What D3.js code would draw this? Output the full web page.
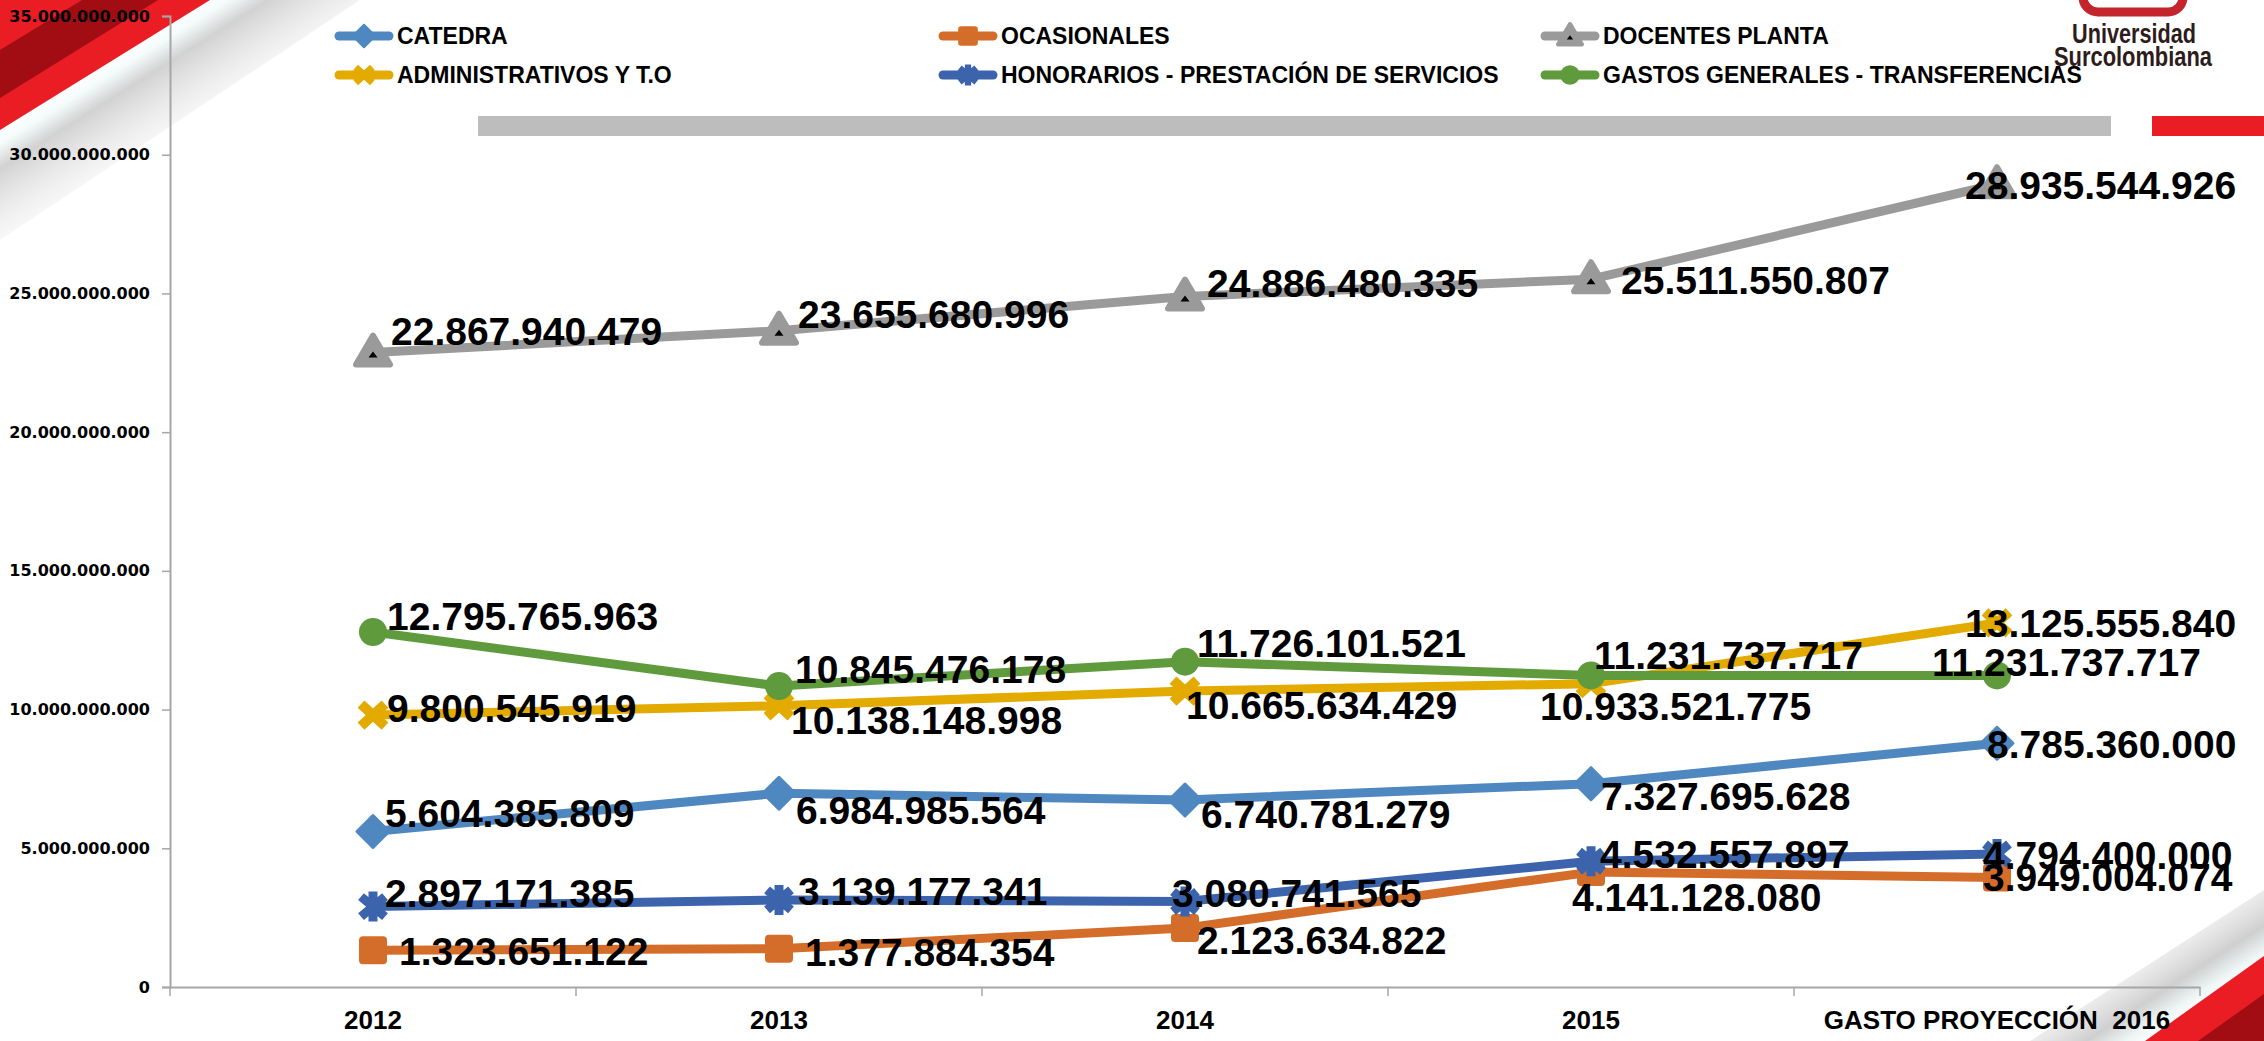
<!DOCTYPE html>
<html><head><meta charset="utf-8">
<script src="https://cdn.jsdelivr.net/npm/d3@7"></script>
<style>html,body{margin:0;padding:0;background:#fff;overflow:hidden}</style>
</head><body>
<svg id="c" width="2264" height="1041"></svg>
<script>
// ---------------- DATA ----------------
const categories = ["2012", "2013", "2014", "2015", "GASTO PROYECCIÓN  2016"];
const seriesNames = ["CATEDRA", "OCASIONALES", "DOCENTES PLANTA", "ADMINISTRATIVOS Y T.O",
  "HONORARIOS - PRESTACIÓN DE SERVICIOS", "GASTOS GENERALES - TRANSFERENCIAS"];
const catedra = [5604385809, 6984985564, 6740781279, 7327695628, 8785360000];
const ocasionales = [1323651122, 1377884354, 2123634822, 4141128080, 3949004074];
const docentesPlanta = [22867940479, 23655680996, 24886480335, 25511550807, 28935544926];
const administrativos = [9800545919, 10138148998, 10665634429, 10933521775, 13125555840];
const honorarios = [2897171385, 3139177341, 3080741565, 4532557897, 4794400000];
const gastosGenerales = [12795765963, 10845476178, 11726101521, 11231737717, 11231737717];
const yTickValues = [0, 5e9, 10e9, 15e9, 20e9, 25e9, 30e9, 35e9];

// ---------------- STYLE / LAYOUT ----------------
const seriesValues = [catedra, ocasionales, docentesPlanta, administrativos, honorarios, gastosGenerales];
const colors = ["#4f88c0", "#d56d2a", "#9a9a9a", "#e3aa00", "#3c64ad", "#5f9b3c"];
const markers = ["diamond", "square", "triangle", "x", "star", "circle"];
// label offsets (px) relative to the point: [dx to left edge, dy to centre]
const labelOffsets = [
  [[12,-19],[17,17],[16,14],[10,12],[-10,1]],
  [[26,1],[26,3],[12,12],[-19,25],[-14,0]],
  [[18,-22],[19,-17],[22,-14],[30,1],[-32,1]],
  [[14,-7],[12,14],[1,14],[-51,22],[-32,0]],
  [[12,-14],[19,-9],[-13,-9],[9,-7],[-14,1]],
  [[14,-16],[16,-17],[12,-19],[3,-20],[-65,-13]]
];

const svg = d3.select("#c");
const defs = svg.append("defs");
const fmt = d3.formatLocale({decimal: ",", thousands: ".", grouping: [3], currency: ["$", ""]}).format(",d");

// ---------------- DECORATION ----------------
function lg(id, x1, y1, x2, y2, stops) {
  const g = defs.append("linearGradient").attr("id", id).attr("gradientUnits", "userSpaceOnUse")
    .attr("x1", x1).attr("y1", y1).attr("x2", x2).attr("y2", y2);
  stops.forEach(s => g.append("stop").attr("offset", s[0]).attr("stop-color", s[1]).attr("stop-opacity", s[2] == null ? 1 : s[2]));
}
lg("shTL", 102, 64, 175, 180, [[0, "#ffffff"], [0.1, "#f4fbfb"], [0.25, "#d2d2d2"], [1, "#ffffff", 0]]);
lg("shBR", 2215, 1000, 2150, 900, [[0, "#ffffff"], [0.12, "#eef6f6"], [0.3, "#cfcfcf"], [1, "#ffffff", 0]]);
const deco = svg.append("g");
deco.append("polygon").attr("points", "0,120 200,0 360,0 0,240").attr("fill", "url(#shTL)");
deco.append("polygon").attr("points", "0,0 210,0 0,130").attr("fill", "#ea1c24");
deco.append("polygon").attr("points", "0,50 0,98 158,0 82,0").attr("fill", "#a10d12");
deco.append("polygon").attr("points", "2030,1041 2264,890 2264,1041").attr("fill", "url(#shBR)");
deco.append("polygon").attr("points", "2145,1041 2264,956 2264,1041").attr("fill", "#ea1c24");
deco.append("polygon").attr("points", "2198,1041 2264,994 2264,1041").attr("fill", "#a10d12");

// header bars
deco.append("rect").attr("x", 478).attr("y", 116).attr("width", 1633).attr("height", 20).attr("fill", "#bdbdbd");
deco.append("rect").attr("x", 2152).attr("y", 116).attr("width", 112).attr("height", 20).attr("fill", "#ea1c24");

// logo
deco.append("rect").attr("x", 2083).attr("y", -34).attr("width", 100).attr("height", 46).attr("rx", 15)
  .attr("fill", "none").attr("stroke", "#c4242c").attr("stroke-width", 9);
deco.append("text").attr("x", 2072).attr("y", 43).text("Universidad")
  .attr("font-family", "Liberation Sans, Arial, sans-serif").attr("font-weight", "bold").attr("font-size", 28)
  .attr("textLength", 124).attr("lengthAdjust", "spacingAndGlyphs").attr("fill", "#2e1c1c");
deco.append("text").attr("x", 2054).attr("y", 66).text("Surcolombiana")
  .attr("font-family", "Liberation Sans, Arial, sans-serif").attr("font-weight", "bold").attr("font-size", 28)
  .attr("textLength", 158).attr("lengthAdjust", "spacingAndGlyphs").attr("fill", "#2e1c1c");

// ---------------- SCALES / AXES ----------------
const x = d3.scaleBand().domain(categories).range([170, 2200]).padding(0);
const y = d3.scaleLinear().domain([0, 35e9]).range([987, 16]);
const cx = c => x(c) + x.bandwidth() / 2;

const yAxis = svg.append("g").attr("transform", "translate(170,0)")
  .call(d3.axisLeft(y).tickValues(yTickValues).tickFormat(fmt).tickSize(8).tickPadding(12));
yAxis.select(".domain").attr("stroke", "#a6a6a6").attr("stroke-width", 2);
yAxis.selectAll(".tick line").attr("stroke", "#a6a6a6").attr("stroke-width", 1.5);
yAxis.selectAll(".tick text").attr("font-family", "DejaVu Sans, Verdana, sans-serif").attr("font-weight", "bold")
  .attr("font-size", 16).attr("fill", "#000");

const xAxis = svg.append("g").attr("transform", "translate(0,987)")
  .call(d3.axisBottom(x).tickSize(0).tickPadding(24));
xAxis.select(".domain").attr("stroke", "#a6a6a6").attr("stroke-width", 2);
xAxis.selectAll(".tick text").attr("font-family", "Liberation Sans, Arial, sans-serif").attr("font-weight", "bold")
  .attr("font-size", 26).attr("fill", "#000").style("white-space", "pre");
// category boundary tick marks
svg.append("g").selectAll("line").data(categories.concat(["_end"])).join("line")
  .attr("x1", (d, i) => i < categories.length ? x(d) : x(categories[categories.length - 1]) + x.bandwidth())
  .attr("x2", (d, i) => i < categories.length ? x(d) : x(categories[categories.length - 1]) + x.bandwidth())
  .attr("y1", 987).attr("y2", 996).attr("stroke", "#a6a6a6").attr("stroke-width", 1.5);

// ---------------- MARKERS ----------------
function drawMarker(g, type, color, s) {
  if (type === "diamond") {
    g.append("path").attr("d", `M0,${-16*s}L${16*s},0L0,${16*s}L${-16*s},0Z`).attr("fill", color)
      .attr("stroke", color).attr("stroke-width", 3 * s).attr("stroke-linejoin", "round");
  } else if (type === "square") {
    g.append("rect").attr("x", -13*s).attr("y", -13*s).attr("width", 26*s).attr("height", 26*s).attr("rx", 3*s)
      .attr("fill", color).attr("stroke", color).attr("stroke-width", 2*s);
  } else if (type === "triangle") {
    g.append("path").attr("d", `M0,${-17*s}L${17*s},${12*s}L${-17*s},${12*s}Z`).attr("fill", color)
      .attr("stroke", color).attr("stroke-width", 6*s).attr("stroke-linejoin", "round");
    g.append("path").attr("d", `M0,${-1*s}L${4.5*s},${5*s}L${-4.5*s},${5*s}Z`).attr("fill", "#000");
  } else if (type === "x") {
    g.append("path").attr("d", `M${-12*s},${-11*s}L${12*s},${11*s}M${12*s},${-11*s}L${-12*s},${11*s}`)
      .attr("stroke", color).attr("stroke-width", 10*s).attr("fill", "none");
  } else if (type === "star") {
    g.append("path").attr("d", `M${-12*s},${-10*s}L${12*s},${10*s}M${12*s},${-10*s}L${-12*s},${10*s}M0,${-15*s}L0,${15*s}`)
      .attr("stroke", color).attr("stroke-width", 9*s).attr("fill", "none");
  } else if (type === "circle") {
    g.append("circle").attr("r", 14*s).attr("fill", color);
  }
}

// ---------------- SERIES ----------------
const line = d3.line().x((d, i) => cx(categories[i])).y(d => y(d));
const plot = svg.append("g");
seriesValues.forEach((vals, si) => {
  const g = plot.append("g");
  g.append("path").datum(vals).attr("d", line).attr("fill", "none").attr("stroke", colors[si])
    .attr("stroke-width", 9).attr("stroke-linejoin", "round").attr("stroke-linecap", "round");
  vals.forEach((v, i) => {
    const mg = g.append("g").attr("transform", `translate(${cx(categories[i])},${y(v)})`);
    drawMarker(mg, markers[si], colors[si], 1);
  });
});
// data labels
const labels = svg.append("g");
seriesValues.forEach((vals, si) => {
  labels.selectAll(null).data(vals).join("text")
    .attr("x", (d, i) => cx(categories[i]) + labelOffsets[si][i][0])
    .attr("y", (d, i) => y(d) + labelOffsets[si][i][1])
    .attr("dy", "0.36em")
    .attr("font-family", "Liberation Sans, Arial, sans-serif").attr("font-weight", "bold")
    .attr("font-size", 39).attr("fill", "#000")
    .text(d => fmt(d));
});

// ---------------- LEGEND ----------------
const legendPos = [[335, 36], [939, 36], [1541, 36], [335, 75], [939, 75], [1541, 75]];
const legend = svg.append("g");
seriesNames.forEach((n, si) => {
  const g = legend.append("g").attr("transform", `translate(${legendPos[si][0]},${legendPos[si][1]})`);
  g.append("line").attr("x1", 4).attr("x2", 54).attr("y1", 0).attr("y2", 0).attr("stroke", colors[si])
    .attr("stroke-width", 9).attr("stroke-linecap", "round");
  const mg = g.append("g").attr("transform", "translate(29,0)");
  drawMarker(mg, markers[si], colors[si], 0.7);
  g.append("text").attr("x", 62).attr("y", 0).attr("dy", "0.36em").text(n)
    .attr("font-family", "Liberation Sans, Arial, sans-serif").attr("font-weight", "bold")
    .attr("font-size", 23).attr("fill", "#000");
});
</script>
</body></html>
